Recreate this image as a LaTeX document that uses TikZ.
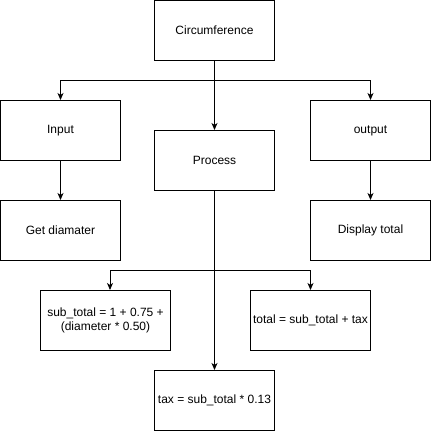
\documentclass[tikz,border=0pt]{standalone}
\usepackage{fontspec}
\setmainfont{Liberation Sans}
\usetikzlibrary{arrows.meta}
\begin{document}
\begin{tikzpicture}[x=1pt,y=-1pt,
  box/.style={draw=black,line width=1pt,fill=white,minimum width=120pt,minimum height=60pt,inner sep=0pt,align=center,font=\fontsize{12}{14}\selectfont},
  wbox/.style={box,minimum width=130pt},
  conn/.style={line width=1pt,-{Stealth[length=7pt,width=6pt,inset=2pt]}},
  seg/.style={line width=1pt}]
\useasboundingbox (0,0) rectangle (431,431);
\node[box] (circ) at (214.5,30.5) {Circumference};
\node[box] (inp) at (60.5,130.5) {Input};
\node[box] (proc) at (214.5,160.5) {Process};
\node[box] (out) at (370.5,130.5) {output};
\node[box] (get) at (60.5,230.5) {Get diamater};
\node[box] (disp) at (370.5,230.5) {Display total};
\node[wbox] (sub) at (105.5,320.5) {sub\_total = 1 + 0.75 +\\(diameter * 0.50)};
\node[box] (tot) at (310.5,320.5) {total = sub\_total + tax};
\node[box] (tax) at (214.5,400.5) {tax = sub\_total * 0.13};
\coordinate (j1) at (214.5,80.5);
\coordinate (j2) at (214.5,270.5);
\draw[seg] (circ.south) -- (j1);
\draw[conn] (j1) -| (inp.north);
\draw[conn] (j1) -| (out.north);
\draw[conn] (j1) -- (proc.north);
\draw[conn] (inp.south) -- (get.north);
\draw[conn] (out.south) -- (disp.north);
\draw[seg] (proc.south) -- (j2);
\draw[conn] (j2) -| ([xshift=4.5pt]sub.north);
\draw[conn] (j2) -| (tot.north);
\draw[conn] (j2) -- (tax.north);
\end{tikzpicture}
\end{document}
